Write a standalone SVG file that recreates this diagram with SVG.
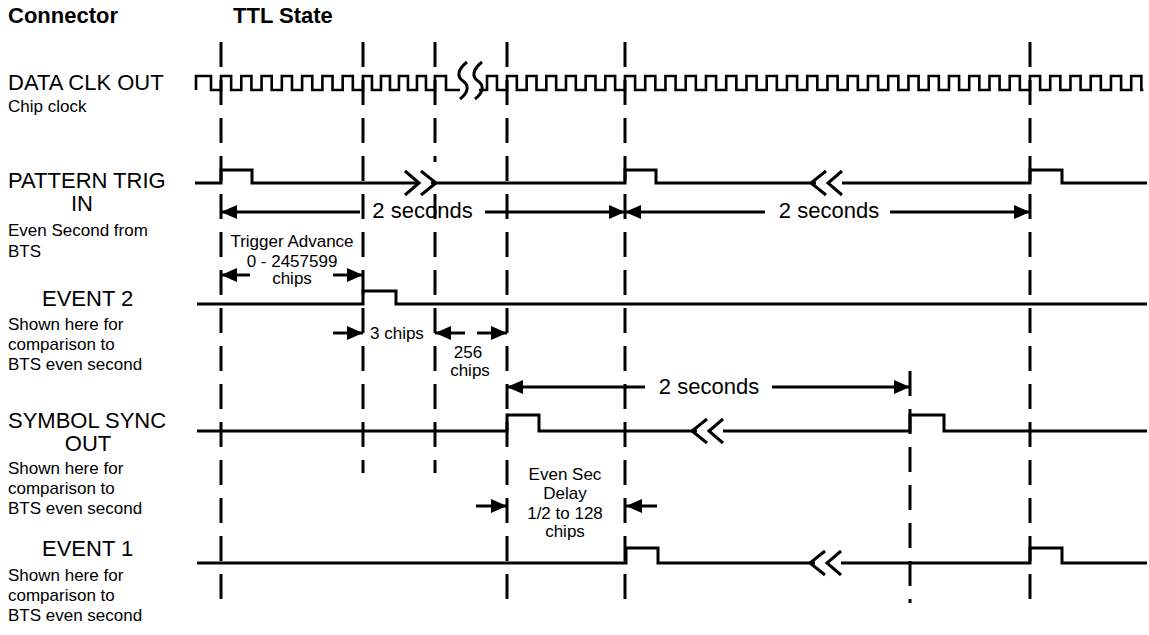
<svg xmlns="http://www.w3.org/2000/svg" width="1149" height="635" viewBox="0 0 1149 635">
<style>
.sig{fill:none;stroke:#000;stroke-width:3}
.clk{fill:none;stroke:#000;stroke-width:2.6}
.dash{fill:none;stroke:#000;stroke-width:3;stroke-dasharray:25 13}
.arr{fill:none;stroke:#000;stroke-width:3;marker-end:url(#ah)}
.brk{fill:none;stroke:#000;stroke-width:3}
text{font-family:"Liberation Sans",Arial,Helvetica,sans-serif;fill:#000}
.big{font-size:22px}
.sm{font-size:17px}
.hdr{font-size:22px;font-weight:bold}
.mid{text-anchor:middle}
</style>
<defs>
<marker id="ah" viewBox="0 0 16 14" refX="16" refY="7" markerWidth="16" markerHeight="14" markerUnits="userSpaceOnUse" orient="auto"><path d="M0,0 L16,7 L0,14 z" fill="#000"/></marker>
</defs>
<rect width="1149" height="635" fill="#fff"/>
<g id="header">
<text class="hdr" x="8" y="23">Connector</text>
<text class="hdr" x="233" y="23">TTL State</text>
</g>
<g id="data-clk-out">
<text class="big" x="8" y="90">DATA CLK OUT</text>
<text class="sm" x="8" y="112">Chip clock</text>
<path class="clk" d="M196,90 V76 H211 V90 H221 V76h10.14V90h10.14V76h10.14V90h10.14V76h10.14V90h10.14V76h10.14V90h10.14V76h10.14V90h10.14V76h10.14V90h10.14V76h10.14V90h10.14 V76h9V90h9V76h9V90h9V76h9V90h9V76h9V90h9 V76H446V90H460"/>
<path class="clk" d="M479,90 H487 V76 H497 V90 H507 V76h9.83V90h9.83V76h9.83V90h9.83V76h9.83V90h9.83V76h9.83V90h9.83V76h9.83V90h9.83V76h9.83V90h9.83 V76h10.125V90h10.125V76h10.125V90h10.125V76h10.125V90h10.125V76h10.125V90h10.125V76h10.125V90h10.125 V76h10.125V90h10.125V76h10.125V90h10.125V76h10.125V90h10.125V76h10.125V90h10.125V76h10.125V90h10.125 V76h10.125V90h10.125V76h10.125V90h10.125V76h10.125V90h10.125V76h10.125V90h10.125V76h10.125V90h10.125 V76h10.125V90h10.125V76h10.125V90h10.125V76h10.125V90h10.125V76h10.125V90h10.125V76h10.125V90h10.125 V76h10.125V90h10.125V76h10.125V90h10.125V76h10.125V90h10.125V76h10.125V90h10.125V76h10.125V90h10.125 V76h10.125V90h2"/>
<path class="brk" d="M467,62 C457,70 457,77 463,81 C469,85 469,92 460,99"/>
<path class="brk" d="M482,62 C472,70 472,77 478,81 C484,85 484,92 475,99"/>
</g>
<g id="pattern-trig-in">
<text class="big" x="8" y="188">PATTERN TRIG</text>
<text class="big mid" x="82" y="211">IN</text>
<text class="sm" x="8" y="236">Even Second from</text>
<text class="sm" x="8" y="257">BTS</text>
<path class="sig" d="M195,183 H221 V170 H252 V183 H419"/>
<path class="sig" d="M431,183 H625 V170 H656 V183 H816"/>
<path class="sig" d="M842,183 H1030 V170 H1062 V183 H1147"/>
<path class="brk" d="M405,171 L419,183 L405,195 M421,171 L436,183 L421,195"/>
<path class="brk" d="M826,171 L811,183 L826,195 M842,171 L828,183 L842,195"/>
</g>
<g id="event-2">
<text class="big" x="42" y="306">EVENT 2</text>
<text class="sm" x="8" y="330">Shown here for</text>
<text class="sm" x="8" y="350">comparison to</text>
<text class="sm" x="8" y="370">BTS even second</text>
<path class="sig" d="M197,304 H363 V291 H396 V304 H1147"/>
</g>
<g id="symbol-sync-out">
<text class="big" x="8" y="428">SYMBOL SYNC</text>
<text class="big mid" x="88" y="451">OUT</text>
<text class="sm" x="8" y="474">Shown here for</text>
<text class="sm" x="8" y="494">comparison to</text>
<text class="sm" x="8" y="514">BTS even second</text>
<path class="sig" d="M197,431 H507 V415 H539 V431 H697"/>
<path class="sig" d="M723,431 H910 V415 H944 V431 H1147"/>
<path class="brk" d="M707,419 L692,431 L707,443 M723,419 L709,431 L723,443"/>
</g>
<g id="event-1">
<text class="big" x="42" y="556">EVENT 1</text>
<text class="sm" x="8" y="581">Shown here for</text>
<text class="sm" x="8" y="601">comparison to</text>
<text class="sm" x="8" y="621">BTS even second</text>
<path class="sig" d="M197,563 H626 V548 H658 V563 H815"/>
<path class="sig" d="M841,563 H1030 V548 H1062 V563 H1147"/>
<path class="brk" d="M825,551 L810,563 L825,575 M841,551 L827,563 L841,575"/>
</g>
<g id="connectors">
<line class="dash" x1="221" y1="42" x2="221" y2="600"/>
<line class="dash" x1="363" y1="42" x2="363" y2="473"/>
<line class="dash" x1="435" y1="42" x2="435" y2="162"/>
<line class="dash" x1="435" y1="194" x2="435" y2="473"/>
<line class="dash" x1="507" y1="42" x2="507" y2="600"/>
<line class="dash" x1="625" y1="42" x2="625" y2="600"/>
<line class="dash" x1="910" y1="371" x2="910" y2="603"/>
<line class="dash" x1="1030" y1="42" x2="1030" y2="600"/>
<line class="arr" x1="360" y1="212" x2="221" y2="212"/>
<line class="arr" x1="485" y1="212" x2="625" y2="212"/>
<line class="arr" x1="765" y1="212" x2="625" y2="212"/>
<line class="arr" x1="890" y1="212" x2="1030" y2="212"/>
<line class="arr" x1="250" y1="275" x2="221" y2="275"/>
<line class="arr" x1="333" y1="275" x2="363" y2="275"/>
<line class="arr" x1="333" y1="333" x2="363" y2="333"/>
<line class="arr" x1="465" y1="333" x2="435" y2="333"/>
<line class="arr" x1="477" y1="333" x2="507" y2="333"/>
<line class="arr" x1="645" y1="387" x2="507" y2="387"/>
<line class="arr" x1="772" y1="387" x2="910" y2="387"/>
<line class="arr" x1="476" y1="506" x2="507" y2="506"/>
<line class="arr" x1="657" y1="506" x2="626" y2="506"/>
</g>
<g id="annotations">
<text class="big mid" x="422.5" y="218">2 seconds</text>
<text class="big mid" x="829" y="218">2 seconds</text>
<text class="big mid" x="709" y="394">2 seconds</text>
<text class="sm mid" x="292" y="247">Trigger Advance</text>
<text class="sm mid" x="292" y="267">0 - 2457599</text>
<text class="sm mid" x="292" y="284">chips</text>
<text class="sm" x="370" y="339">3 chips</text>
<text class="sm mid" x="468" y="358">256</text>
<text class="sm mid" x="470" y="376">chips</text>
<text class="sm mid" x="565" y="480">Even Sec</text>
<text class="sm mid" x="565" y="499">Delay</text>
<text class="sm mid" x="565" y="519">1/2 to 128</text>
<text class="sm mid" x="565" y="537">chips</text>
</g>
</svg>
